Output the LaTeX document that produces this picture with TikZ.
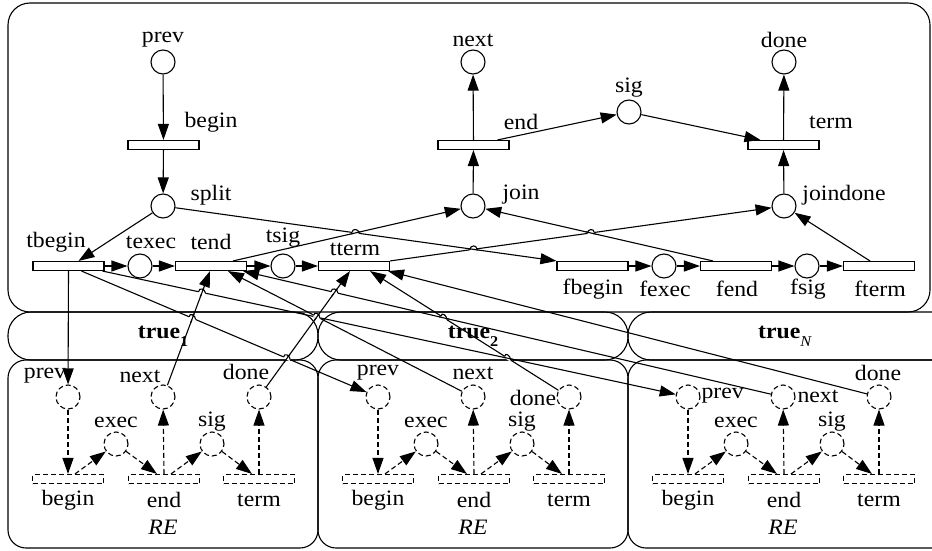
\documentclass[tikz,border=0pt]{standalone}
\usepackage{fontspec}
\setmainfont{Liberation Serif}[FakeStretch=1.08]
\usetikzlibrary{arrows.meta,calc,intersections}
\newcommand{\hopmark}[5]{%
  \draw[white,line width=3pt] ($(#1)!3.5pt!(#2)$) -- ($(#1)!3.5pt!(#3)$);
  \draw ($(#1)!5pt!(#4)$) -- ($(#1)!5pt!(#5)$);
  \draw ($(#1)!3.5pt!(#2)$) .. controls +(0,-4.5) and +(0,-4.5) .. ($(#1)!3.5pt!(#3)$);
}
\begin{document}
\begin{tikzpicture}[x=1pt,y=-1pt,
  font=\fontsize{22}{25}\selectfont,
  line width=1.1pt,
  >={Triangle[length=16pt,width=11pt]},
  place/.style={circle,draw,minimum size=24pt,inner sep=0pt},
  trans/.style={rectangle,draw,fill=white,minimum width=71pt,minimum height=9pt,inner sep=0pt},
  dplace/.style={place,dash pattern=on 5pt off 3pt},
  dtrans/.style={trans,dash pattern=on 5pt off 3pt},
  darc/.style={->,dash pattern=on 5pt off 3pt},
  lbl/.style={inner sep=0pt},
  frame/.style={draw,line width=1.1pt}]
\useasboundingbox (0,0) rectangle (932,551);
\clip (0,0) rectangle (932,551);
\fill[white] (0,0) rectangle (932,551);
% frames
\draw[frame,rounded corners=22pt] (8,3) rectangle (930,312);
\draw[frame,rounded corners=23pt] (8,312) rectangle (318,360);
\draw[frame,rounded corners=23pt] (318,312) rectangle (628,360);
\draw[frame,rounded corners=23pt] (628,312) rectangle (960,360);
\draw[frame,rounded corners=18pt] (8,360) rectangle (318,548);
\draw[frame,rounded corners=18pt] (318,360) rectangle (628,548);
\draw[frame,rounded corners=18pt] (628,360) rectangle (960,548);
\node[lbl] (tr1) at (163,336) {\textbf{true}\raisebox{-0.35em}{\fontsize{15}{15}\selectfont\textbf{1}}};
\node[lbl] (tr2) at (473,336) {\textbf{true}\raisebox{-0.35em}{\fontsize{15}{15}\selectfont\textbf{2}}};
\node[lbl] (tr3) at (785,336) {\textbf{true}\raisebox{-0.35em}{\fontsize{15}{15}\selectfont\textit{N}}};
% top net
\node[place] (aprev) at (163,62) {};
\node[trans] (abegin) at (163.5,145) {};
\node[place] (asplit) at (163,206) {};
\node[place] (anext) at (473,62) {};
\node[trans] (aend) at (473.5,145) {};
\node[place] (asig) at (629,112) {};
\node[place] (adone) at (784,62) {};
\node[trans] (aterm) at (783.5,145) {};
\node[place] (ajoin) at (473,206) {};
\node[place] (ajoindone) at (784,206) {};
\node[trans] (tbegin) at (68.5,266) {};
\node[place] (texec) at (140,266) {};
\node[trans] (tend) at (211,266) {};
\node[place] (tsig) at (283,266) {};
\node[trans] (tterm) at (354,266) {};
\node[trans] (fbegin) at (592.5,266) {};
\node[place] (fexec) at (664,266) {};
\node[trans] (fend) at (736,266) {};
\node[place] (fsig) at (807,266) {};
\node[trans] (fterm) at (879,266) {};
% top labels
\node[lbl] at (163,40) {prev};
\node[lbl] at (211,122) {begin};
\node[lbl] at (211,195) {split};
\node[lbl] at (473,40) {next};
\node[lbl] at (521,122) {end};
\node[lbl] at (629,88) {sig};
\node[lbl] at (784,40) {done};
\node[lbl] at (831,122) {term};
\node[lbl] at (521,195) {join};
\node[lbl] at (844,195) {joindone};
\node[lbl] at (56,242) {tbegin};
\node[lbl] at (151,242) {texec};
\node[lbl] at (211,242) {tend};
\node[lbl] at (283,238) {tsig};
\node[lbl] at (355,249) {tterm};
\node[lbl] at (593,289) {fbegin};
\node[lbl] at (665,289) {fexec};
\node[lbl] at (737,289) {fend};
\node[lbl] at (808,289) {fsig};
\node[lbl] at (880,289) {fterm};
% panels
\foreach \i/\dx in {1/0,2/310,3/620}{
  \begin{scope}[xshift=\dx pt]
    \node[dplace] (prev\i) at (68,397) {};
    \node[dplace] (exec\i) at (116,444) {};
    \node[dplace] (next\i) at (163,397) {};
    \node[dplace] (sig\i) at (212,444) {};
    \node[dplace] (done\i) at (259,397) {};
    \node[dtrans] (begin\i) at (68,479) {};
    \node[dtrans] (end\i) at (164,479) {};
    \node[dtrans] (term\i) at (259,479) {};
    \node[lbl] at (116,422) {exec};
    \node[lbl] at (212,422) {sig};
    \node[lbl] at (68,500) {begin};
    \node[lbl] at (164,500) {end};
    \node[lbl] at (259,500) {term};
    \node[lbl] at (163,527) {\textit{RE}};
    \draw[darc] (prev\i) -- (begin\i);
    \draw[darc] ([xshift=7pt]begin\i.north) -- (exec\i);
    \draw[darc] (exec\i) -- ([xshift=-7pt]end\i.north);
    \draw[darc] (end\i.north) -- (next\i);
    \draw[darc] ([xshift=7pt]end\i.north) -- (sig\i);
    \draw[darc] (sig\i) -- ([xshift=-7pt]term\i.north);
    \draw[darc] (term\i.north) -- (done\i);
  \end{scope}
}
\node[lbl] at (45,376) {prev};
\node[lbl] at (140,376) {next};
\node[lbl] at (246,372) {done};
\node[lbl] at (378,373) {prev};
\node[lbl] at (473,373) {next};
\node[lbl] at (533,398) {done};
\node[lbl,anchor=west] at (701,396) {prev};
\node[lbl,anchor=west] at (797,396) {next};
\node[lbl] at (878,373) {done};
% end points
\coordinate (t1s) at ([xshift=10pt]tbegin.north);
\coordinate (t2s) at ([xshift=22pt]tend.north);
\coordinate (t4s) at ([xshift=-23pt]fend.north);
\coordinate (t5s) at ([xshift=-9pt]fterm.north);
\coordinate (esig) at ([xshift=24pt]aend.north);
\coordinate (tsigt) at ([xshift=-23pt]aterm.north);
\coordinate (l1s) at ([xshift=13pt]tbegin.south);
\coordinate (l2s) at ([xshift=34pt]tbegin.south);
\coordinate (l3e) at ([xshift=-1pt]tend.south);
\coordinate (l4e) at ([xshift=17pt]tend.south);
\coordinate (l5e) at ([xshift=32pt]tend.south);
\coordinate (l6e) at ([xshift=-4pt]tterm.south);
\coordinate (l7e) at ([xshift=16pt]tterm.south);
\coordinate (l8e) at ([xshift=34pt]tterm.south);
% top arcs
\draw[->] (aprev) -- (abegin);
\draw[->] (abegin) -- (asplit);
\draw[->] (asplit) -- (t1s);
\draw[->] (asplit) -- (fbegin.north west);
\draw[->] (t2s) -- (ajoin);
\draw[->] (tterm.north east) -- (ajoindone);
\draw[->] (t4s) -- (ajoin);
\draw[->] (t5s) -- (ajoindone);
\draw[->] (ajoin) -- (aend);
\draw[->] (aend) -- (anext);
\draw[->] (esig) -- (asig);
\draw[->] (asig) -- (tsigt);
\draw[->] (ajoindone) -- (aterm);
\draw[->] (aterm) -- (adone);
\draw[->] (tbegin) -- (texec);
\draw[->] (texec) -- (tend);
\draw[->] (tend) -- (tsig);
\draw[->] (tsig) -- (tterm);
\draw[->] (fbegin) -- (fexec);
\draw[->] (fexec) -- (fend);
\draw[->] (fend) -- (fsig);
\draw[->] (fsig) -- (fterm);
% links to panels
\draw[->] (tbegin.south) -- (prev1);
\draw[->] (l1s) -- (prev2);
\draw[->] (l2s) -- (prev3);
\draw[->] (next1) -- (l3e);
\draw[->] (next2) -- (l4e);
\draw[->] (next3) -- (l5e);
\draw[->] (done1) -- (l6e);
\draw[->] (done2) -- (l7e);
\draw[->] (done3) -- (l8e);
% crossing paths
\path[name path=T1] (asplit.center) -- (fbegin.north west);
\path[name path=T2] (t2s) -- (ajoin.center);
\path[name path=T3] (tterm.north east) -- (ajoindone.center);
\path[name path=T4] (t4s) -- (ajoin.center);
\path[name path=L1] (l1s) -- (prev2.center);
\path[name path=L2] (l2s) -- (prev3.center);
\path[name path=L3] (next1.center) -- (l3e);
\path[name path=L4] (next2.center) -- (l4e);
\path[name path=L5] (next3.center) -- (l5e);
\path[name path=L6] (done1.center) -- (l6e);
\path[name path=L7] (done2.center) -- (l7e);
\path[name intersections={of=T1 and T2,by=h1}];
\path[name intersections={of=T1 and T3,by=h2}];
\path[name intersections={of=T3 and T4,by=h3}];
\path[name intersections={of=L2 and L3,by=h4}];
\path[name intersections={of=L1 and L3,by=h5}];
\path[name intersections={of=L5 and L6,by=h6}];
\path[name intersections={of=L4 and L6,by=h7}];
\path[name intersections={of=L1 and L6,by=h8}];
\path[name intersections={of=L7 and L2,by=h9}];
\path[name intersections={of=L7 and L5,by=h10}];
% hops
\hopmark{h1}{asplit}{fbegin.north west}{t2s}{ajoin}
\hopmark{h2}{tterm.north east}{ajoindone}{asplit}{fbegin.north west}
\hopmark{h3}{tterm.north east}{ajoindone}{t4s}{ajoin}
\hopmark{h4}{l2s}{prev3}{next1}{l3e}
\hopmark{h5}{l1s}{prev2}{next1}{l3e}
\hopmark{h6}{l5e}{next3}{done1}{l6e}
\hopmark{h7}{l4e}{next2}{done1}{l6e}
\hopmark{h8}{l1s}{prev2}{done1}{l6e}
\hopmark{h9}{l7e}{done2}{l2s}{prev3}
\hopmark{h10}{l7e}{done2}{next3}{l5e}
\end{tikzpicture}
\end{document}
